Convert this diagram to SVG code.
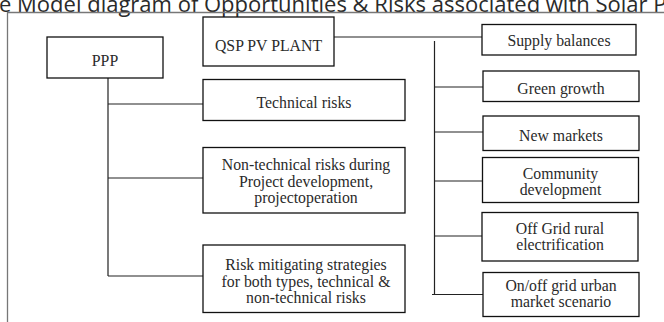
<svg xmlns="http://www.w3.org/2000/svg" width="664" height="322" viewBox="0 0 664 322">
<style>
.box{fill:#fff;stroke:#111;stroke-width:1.3}
.t{font-family:"Liberation Serif","Times New Roman",serif;font-size:15.8px;fill:#2a2a2a;text-anchor:middle}
.c{stroke:#222;stroke-width:1.2;fill:none}
.title{font-family:"Open Sans","Noto Sans",sans-serif;font-size:22px;fill:#2a2a2a}
.frame{stroke:#777;stroke-width:1.3;fill:none}
</style>
<rect width="664" height="322" fill="#fff"/>
<text class="title" x="-1" y="12">e Model diagram of Opportunities &amp; Risks associated with Solar P</text>
<path class="frame" d="M7.5 322V12.5H664"/>
<g id="connectors">
<path class="c" d="M108 78V276M108 104H203M108 178H203M108 276H203"/>
<path class="c" d="M334 37H482M434.5 41V294.5M434 87H483M434 132H483M434 181H483M434 236H483M432 294.5H483"/>
</g>
<g id="ppp"><rect class="box" x="47" y="37" width="116" height="41"/><text class="t" x="105" y="66">PPP</text></g>
<g id="qsp"><rect class="box" x="203" y="17" width="131" height="49"/><text class="t" x="268.5" y="51">QSP PV PLANT</text></g>
<g id="technical"><rect class="box" x="203" y="79.5" width="202" height="41"/><text class="t" x="304" y="107.5">Technical risks</text></g>
<g id="nontechnical"><rect class="box" x="203" y="147.5" width="202" height="65.5"/><text class="t" x="306" y="169.5">Non-technical risks during</text><text class="t" x="306" y="186.5">Project development,</text><text class="t" x="306" y="202.5">projectoperation</text></g>
<g id="mitigating"><rect class="box" x="203" y="245" width="202" height="67.5"/><text class="t" x="306" y="269.5">Risk mitigating strategies</text><text class="t" x="306" y="286.5">for both types, technical &amp;</text><text class="t" x="306" y="302.5">non-technical risks</text></g>
<g id="supply"><rect class="box" x="482" y="24.5" width="154" height="30.5"/><text class="t" x="559" y="46">Supply balances</text></g>
<g id="green"><rect class="box" x="483" y="71" width="156" height="30.5"/><text class="t" x="561" y="94">Green growth</text></g>
<g id="newmarkets"><rect class="box" x="483" y="116" width="156" height="34.5"/><text class="t" x="561" y="140.5">New markets</text></g>
<g id="community"><rect class="box" x="482.5" y="157.5" width="156" height="45"/><text class="t" x="560.5" y="178.5">Community</text><text class="t" x="560.5" y="195">development</text></g>
<g id="offgrid"><rect class="box" x="482" y="212.5" width="156" height="48.5"/><text class="t" x="560" y="234">Off Grid rural</text><text class="t" x="560" y="250">electrification</text></g>
<g id="onoff"><rect class="box" x="483" y="272.5" width="156" height="44"/><text class="t" x="561" y="291">On/off grid urban</text><text class="t" x="561" y="307">market scenario</text></g>
</svg>
